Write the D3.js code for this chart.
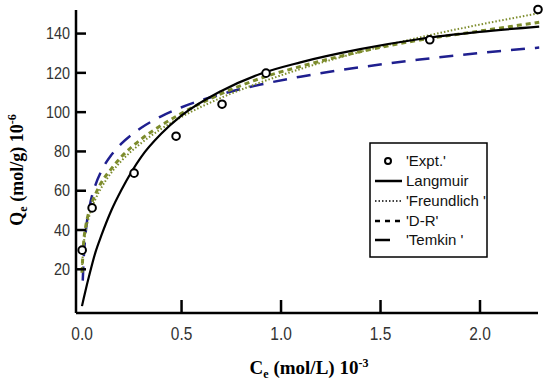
<!DOCTYPE html>
<html><head><meta charset="utf-8">
<script src="https://cdn.jsdelivr.net/npm/d3@7/dist/d3.min.js"></script>
<style>body{margin:0;background:#fff}svg{display:block}</style>
</head><body><svg id="c" width="550" height="387"></svg>
<script>
const xTicks = [0.0, 0.5, 1.0, 1.5, 2.0];
const yTicks = [20, 40, 60, 80, 100, 120, 140];
const exptX = [0.003, 0.053, 0.264, 0.475, 0.706, 0.927, 1.75, 2.294];
const exptY = [29.5, 51, 68.7, 87.5, 103.8, 119.6, 136.6, 152];
const curveX = [0.002, 0.01, 0.02, 0.04, 0.07, 0.1, 0.15, 0.2, 0.3, 0.4, 0.5, 0.7, 0.9, 1.1, 1.4, 1.7, 2.0, 2.3];
const langmuirY = [1, 4.6, 9.0, 17.2, 28.5, 37.1, 49.8, 60.1, 77, 88.7, 97.8, 110.4, 119.3, 125.1, 131.8, 137, 140.6, 143.3];
const freundlichY = [20.1, 31.9, 38.8, 47.3, 55.5, 61.4, 69, 74.9, 84, 91.2, 97.2, 107, 114.9, 121.7, 130.4, 137.8, 144.3, 150.1];
const drY = [18, 33, 41, 50, 58, 64, 71, 77, 86, 93, 99, 109, 117, 123, 130.5, 136.5, 141, 145.5];
const temkinX = [0.006, 0.01, 0.02, 0.04, 0.07, 0.1, 0.15, 0.2, 0.3, 0.4, 0.5, 0.7, 0.9, 1.1, 1.4, 1.7, 2.0, 2.3];
const temkinY = [14, 23.8, 37.7, 51.5, 62.7, 69.9, 78.0, 83.7, 91.8, 97.6, 102.1, 108.8, 113.8, 117.8, 122.6, 126.5, 129.8, 132.6];
const legendLabels = ["'Expt.'", "Langmuir", "'Freundlich '", "'D-R'", "'Temkin '"];

const svg = d3.select("#c");
const x = d3.scaleLinear().domain([-0.028, 2.294]).range([76, 538]);
const y = d3.scaleLinear().domain([-2.5, 152]).range([313, 9.5]);

const line = d3.line().x(d => x(d[0])).y(d => y(d[1])).curve(d3.curveMonotoneX);
const olive = "#7d8c2c", navy = "#1f1f8f";

function draw(xs, ys, color, width, dash) {
  svg.append("path").datum(xs.map((v, i) => [v, ys[i]]))
    .attr("d", line).attr("fill", "none").attr("stroke", color)
    .attr("stroke-width", width).attr("stroke-dasharray", dash);
}
draw(temkinX, temkinY, navy, 2.5, "14,10");
draw(curveX, freundlichY, olive, 2, "1.5,2");
draw(curveX, drY, olive, 3, "5,4");
draw(curveX, langmuirY, "#000", 2.2, null);

svg.selectAll("circle.pt").data(exptX).enter().append("circle")
  .attr("cx", (d) => x(d)).attr("cy", (d, i) => y(exptY[i])).attr("r", 3.8)
  .attr("fill", "#fff").attr("stroke", "#000").attr("stroke-width", 2);

// axes
const xAxis = d3.axisBottom(x).tickValues(xTicks).tickSize(-13).tickPadding(0).tickFormat(d3.format(".1f"));
const gx = svg.append("g").attr("transform", `translate(0,${y(-2.5)})`).call(xAxis);
const yAxis = d3.axisLeft(y).tickValues(yTicks).tickSize(-10).tickPadding(0).tickFormat(d3.format("d"));
const gy = svg.append("g").attr("transform", `translate(${x(-0.028)},0)`).call(yAxis);
[gx, gy].forEach(g => {
  g.select(".domain").attr("stroke", "#000").attr("stroke-width", 2.5);
  g.selectAll(".tick line").attr("stroke", "#000").attr("stroke-width", 2.5);
  g.selectAll(".tick text").attr("font-family", "Liberation Sans, Arial, sans-serif").attr("fill", "#333");
});
gx.selectAll(".tick text").attr("font-size", 18).attr("dy", null).attr("y", 0)
  .attr("transform", "translate(0,27) scale(0.86,1)");
gy.selectAll(".tick text").attr("font-size", 16).attr("dy", "0.36em").attr("x", 0)
  .attr("transform", "translate(-6,0) scale(0.9,1)");
gx.selectAll(".tick").filter(d => d === 0).select("line").remove();
gx.select(".domain").attr("d", `M76,0H538`);
gy.select(".domain").attr("d", `M0,313V10`);

// axis labels
const xl = svg.append("text").attr("x", 309).attr("y", 374).attr("text-anchor", "middle")
  .attr("font-family", "Liberation Serif, Times New Roman, serif").attr("font-weight", "bold").attr("font-size", 19);
xl.append("tspan").text("C");
xl.append("tspan").text("e").attr("font-size", 12).attr("dy", 4);
xl.append("tspan").text(" (mol/L) 10").attr("dy", -4);
xl.append("tspan").text("-3").attr("font-size", 12).attr("dy", -7);

const yl = svg.append("text").attr("transform", "translate(23,170) rotate(-90)").attr("text-anchor", "middle")
  .attr("font-family", "Liberation Serif, Times New Roman, serif").attr("font-weight", "bold").attr("font-size", 18);
yl.append("tspan").text("Q");
yl.append("tspan").text("e").attr("font-size", 12).attr("dy", 4);
yl.append("tspan").text(" (mol/g) 10").attr("dy", -4);
yl.append("tspan").text("-6").attr("font-size", 12).attr("dy", -7);

// legend
const lg = svg.append("g");
lg.append("rect").attr("x", 370).attr("y", 143).attr("width", 117).attr("height", 114)
  .attr("fill", "#fff").attr("stroke", "#000").attr("stroke-width", 1.5);
const ly = [161, 181, 201, 221, 240];
legendLabels.forEach((t, i) => {
  lg.append("text").attr("x", 406).attr("y", ly[i] + 5).text(t)
    .attr("font-family", "Liberation Sans, Arial, sans-serif").attr("font-size", 15).attr("fill", "#111");
});
lg.append("circle").attr("cx", 388).attr("cy", ly[0]).attr("r", 3).attr("fill", "#fff").attr("stroke", "#000").attr("stroke-width", 2);
lg.append("line").attr("x1", 375).attr("x2", 402).attr("y1", ly[1]).attr("y2", ly[1]).attr("stroke", "#000").attr("stroke-width", 2.5);
lg.append("line").attr("x1", 375).attr("x2", 402).attr("y1", ly[2]).attr("y2", ly[2]).attr("stroke", "#000").attr("stroke-width", 1.5).attr("stroke-dasharray", "1.5,2");
lg.append("line").attr("x1", 375).attr("x2", 402).attr("y1", ly[3]).attr("y2", ly[3]).attr("stroke", "#000").attr("stroke-width", 2.5).attr("stroke-dasharray", "5,5");
lg.append("line").attr("x1", 375).attr("x2", 390).attr("y1", ly[4]).attr("y2", ly[4]).attr("stroke", "#000").attr("stroke-width", 2.5);
</script></body></html>
